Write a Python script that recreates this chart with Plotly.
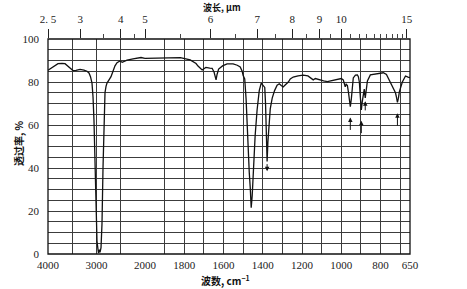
import plotly.graph_objects as go

# ---------------- data ----------------
# high-wavenumber part (4000-2000 cm-1)
wn_high = [4000, 3918, 3856, 3794, 3711, 3649, 3588, 3526, 3485, 3423, 3340, 3258, 3196,
           3155, 3124, 3093, 3072, 3052, 3031, 3010, 2990, 2969, 2959, 2938, 2928, 2907,
           2887, 2866, 2845, 2825, 2804, 2784, 2742, 2701, 2660, 2619, 2577, 2515, 2470,
           2420, 2371, 2247, 2165, 2082, 2000]
tr_high = [85.5, 86.8, 87.9, 88.5, 88.7, 88.5, 87.3, 85.8, 85.3, 85.4, 85.9, 85.5, 85.0,
           84.2, 82.5, 79.5, 73, 62, 40, 18, 6, 2, 0.5, 2, 0.8, 3,
           14, 40, 66, 75, 78, 79.5, 81, 82.5, 85, 87.5, 89, 89.8, 89.2,
           89.6, 90.2, 90.8, 91.2, 91.4, 91.0]

# low-wavenumber part (2000-650 cm-1)
wn_low = [2000, 1900, 1820, 1770, 1740, 1730, 1715, 1709, 1700, 1690, 1670, 1658, 1648,
          1643, 1638, 1633, 1625, 1605, 1582, 1551, 1530, 1515, 1505, 1500, 1492, 1485,
          1480, 1474, 1469, 1464, 1459, 1454, 1449, 1439, 1429, 1418, 1408, 1398, 1390,
          1386, 1383, 1380, 1378, 1374, 1368, 1362, 1352, 1340, 1327, 1316, 1306, 1296,
          1286, 1270, 1260, 1245, 1220, 1194, 1170, 1155, 1143, 1132, 1122, 1110, 1090,
          1071, 1056, 1040, 1015, 1000, 990, 985, 980, 975, 969, 964, 959, 954, 949, 944,
          939, 928, 918, 913, 908, 903, 898, 893, 888, 883, 878, 872, 867, 852, 816, 786,
          770, 760, 745, 735, 724, 719, 714, 709, 704, 689, 673, 660, 650]
tr_low = [91.0, 91.3, 91.3, 90.3, 88.6, 87.4, 86.4, 85.6, 86.2, 86.8, 86.5, 86.4, 84.5,
          82.0, 81.0, 83.5, 86.0, 87.5, 88.4, 88.4, 87.8, 87.0, 85.0, 83.0, 81.4, 72,
          60, 50, 38, 31, 21.5, 27, 38, 55, 67, 76, 79.5, 78.6, 77.5,
          70, 60, 50, 43, 52, 62, 67.5, 72.5, 76, 78.5, 79.2, 78.4, 77.7,
          78.6, 80.0, 81.4, 82.3, 82.8, 83.2, 82.8, 81.8, 81.0, 81.6, 81.3, 80.8, 80.5,
          80.2, 80.5, 81.0, 81.5, 81.6, 81.0, 79.5, 77.8, 79.0, 78.4, 75.5, 71, 68.5, 72, 77,
          81.9, 83.2, 83.3, 82.5, 80, 73, 67, 71, 75.3, 76.7, 72.6, 77, 80.5, 83.3, 84.0, 84.3,
          83.5, 81.6, 79, 77.2, 75, 73, 70.5, 72.5, 75.5, 80, 82.8, 82.3, 82.0]

# axis labels
wn_grid_high = [4000, 3500, 3000, 2500, 2000]
wn_labels_high = {4000: "4000", 3000: "3000"}
wn_grid_low = [2000, 1900, 1800, 1700, 1600, 1500, 1400, 1300, 1200, 1100, 1000, 900, 800, 700, 650]
wn_labels_low = {2000: "2000", 1800: "1800", 1600: "1600", 1400: "1400", 1200: "1200",
                 1000: "1000", 800: "800", 650: "650"}
um_major_high = [2.5, 3, 4]
um_major_low = [5, 6, 7, 8, 9, 10, 15]
um_minor_high = [3.5, 4.5]
um_minor_low = [5.5, 6.5, 7.5, 8.5, 9.5, 10.5, 11, 11.5, 12, 12.5, 13, 13.5, 14, 14.5]
y_ticks = [0, 20, 40, 60, 80, 100]

# marked bands (wavenumber, arrow direction)
marked = [(1378, "down"), (954, "up"), (898, "up"), (878, "up_small"), (714, "up")]

# ---------------- figure ----------------
FONT_NUM = "Liberation Serif, Times New Roman, serif"
FONT_CJK = "Noto Sans CJK SC"
GRID = "#3c3c3c"
split = 0.268

fig = go.Figure()
fig.add_trace(go.Scatter(x=wn_high, y=tr_high, mode="lines", xaxis="x", yaxis="y",
                         line=dict(color="#111", width=1.3), showlegend=False))
fig.add_trace(go.Scatter(x=wn_low, y=tr_low, mode="lines", xaxis="x2", yaxis="y",
                         line=dict(color="#111", width=1.3), showlegend=False))
# invisible carriers so the top (micron) axes get drawn
fig.add_trace(go.Scatter(x=wn_high, y=tr_high, mode="lines", xaxis="x3", yaxis="y",
                         line=dict(color="rgba(0,0,0,0)", width=0), hoverinfo="skip",
                         showlegend=False))
fig.add_trace(go.Scatter(x=wn_low, y=tr_low, mode="lines", xaxis="x4", yaxis="y",
                         line=dict(color="rgba(0,0,0,0)", width=0), hoverinfo="skip",
                         showlegend=False))

tickfont = dict(family=FONT_NUM, size=11, color="#222")

def um_to_wn(v):
    return 10000.0 / v

def um_label(v):
    return str(int(v)) if v == int(v) else str(v).replace(".", ". ")

fig.update_layout(
    width=467, height=289,
    margin=dict(l=48, r=57, t=39, b=35),
    paper_bgcolor="white", plot_bgcolor="white",
    xaxis=dict(domain=[0, split], range=[4000, 2000], tickmode="array",
               tickvals=wn_grid_high,
               ticktext=[wn_labels_high.get(v, "") for v in wn_grid_high],
               showgrid=True, gridcolor=GRID, gridwidth=1, zeroline=False,
               ticks="", ticklabelstandoff=3, tickfont=tickfont, anchor="y"),
    xaxis2=dict(domain=[split, 1], range=[2000, 650], tickmode="array",
                tickvals=wn_grid_low,
                ticktext=[wn_labels_low.get(v, "") for v in wn_grid_low],
                showgrid=True, gridcolor=GRID, gridwidth=1, zeroline=False,
                ticks="", ticklabelstandoff=3, tickfont=tickfont, anchor="y"),
    xaxis3=dict(overlaying="x", side="top", range=[4000, 2000], anchor="y",
                tickmode="array", tickvals=[um_to_wn(v) for v in um_major_high],
                ticktext=[um_label(v) for v in um_major_high],
                ticks="outside", ticklen=9, tickwidth=1, tickcolor="#222",
                showgrid=False, zeroline=False, tickfont=tickfont, ticklabelstandoff=2,
                minor=dict(tickmode="array", tickvals=[um_to_wn(v) for v in um_minor_high],
                           ticks="outside", ticklen=4, tickcolor="#444", showgrid=False)),
    xaxis4=dict(overlaying="x2", side="top", range=[2000, 650], anchor="y",
                tickmode="array", tickvals=[um_to_wn(v) for v in um_major_low],
                ticktext=[um_label(v) for v in um_major_low],
                ticks="outside", ticklen=9, tickwidth=1, tickcolor="#222",
                showgrid=False, zeroline=False, tickfont=tickfont, ticklabelstandoff=2,
                minor=dict(tickmode="array", tickvals=[um_to_wn(v) for v in um_minor_low],
                           ticks="outside", ticklen=4, tickcolor="#444", showgrid=False)),
    yaxis=dict(range=[0, 100], tickmode="array", tickvals=y_ticks,
               showgrid=True, gridcolor=GRID, gridwidth=1, zeroline=False,
               ticks="", ticklabelstandoff=8, tickfont=tickfont,
               minor=dict(dtick=5, showgrid=True, gridcolor=GRID, gridwidth=1)),
    showlegend=False,
)

# frame
fig.add_shape(type="rect", xref="paper", yref="paper", x0=0, x1=1, y0=0, y1=1,
              line=dict(color="#111", width=1.3), layer="above")

# titles
cjk = dict(family=FONT_CJK, size=10, color="#111")
fig.add_annotation(text="<b>波长, μm</b>", xref="paper", yref="paper", x=0.48, y=1.181,
                   showarrow=False, font=dict(family=FONT_CJK, size=9, color="#111"),
                   xanchor="center", yanchor="top", borderpad=0)
fig.add_annotation(text="<b>波数, cm<sup>−1</sup></b>", xref="paper", yref="paper", x=0.49, y=-0.125,
                   showarrow=False, font=cjk, xanchor="center", yanchor="middle")
fig.add_annotation(text="<b>透过率, %</b>", xref="paper", yref="paper", x=-0.083, y=0.516,
                   showarrow=False, font=cjk, textangle=-90, xanchor="center", yanchor="middle")

# band arrows
lookup = dict(zip(wn_low, tr_low))
for wn, kind in marked:
    t = lookup[wn]
    if kind == "down":
        head, tail = t - 4.5, t - 0.5
    elif kind == "up_small":
        head, tail = t - 1.5, t - 6.5
    else:
        head, tail = t - 5, t - 11.5
    fig.add_annotation(x=wn, y=head, ax=wn, ay=tail, xref="x2", yref="y",
                       axref="x2", ayref="y", showarrow=True, arrowhead=2,
                       arrowsize=0.9, arrowwidth=1, arrowcolor="#111", text="")

fig.write_html("out.html")
